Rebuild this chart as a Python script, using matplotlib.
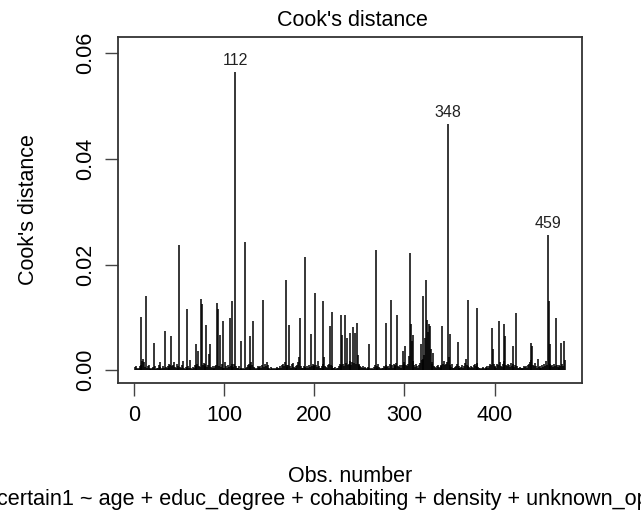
import numpy as np
import matplotlib
matplotlib.use('Agg')
import matplotlib.pyplot as plt

cooks = [
    0.0006, 0.0008, 0.0005, 0.0003, 0.0004, 0.0007, 0.0101, 0.0009, 0.0018, 0.0022,
    0.0015, 0.0006, 0.0140, 0.0004, 0.0008, 0.0010, 0.0003, 0.0005, 0.0002, 0.0004,
    0.0006, 0.0052, 0.0007, 0.0003, 0.0005, 0.0004, 0.0009, 0.0015, 0.0006, 0.0003,
    0.0004, 0.0008, 0.0005, 0.0074, 0.0006, 0.0004, 0.0007, 0.0012, 0.0005, 0.0010,
    0.0064, 0.0007, 0.0009, 0.0015, 0.0006, 0.0004, 0.0011, 0.0005, 0.0008, 0.0236,
    0.0006, 0.0004, 0.0009, 0.0018, 0.0005, 0.0003, 0.0006, 0.0004, 0.0115, 0.0007,
    0.0005, 0.0020, 0.0004, 0.0003, 0.0006, 0.0005, 0.0009, 0.0050, 0.0007, 0.0012,
    0.0036, 0.0008, 0.0006, 0.0135, 0.0125, 0.0009, 0.0014, 0.0007, 0.0011, 0.0086,
    0.0006, 0.0009, 0.0030, 0.0050, 0.0006, 0.0004, 0.0008, 0.0005, 0.0003, 0.0007,
    0.0010, 0.0128, 0.0115, 0.0008, 0.0066, 0.0006, 0.0012, 0.0094, 0.0005, 0.0004,
    0.0015, 0.0007, 0.0005, 0.0009, 0.0006, 0.0099, 0.0008, 0.0011, 0.0130, 0.0006,
    0.0012, 0.0564, 0.0008, 0.0005, 0.0004, 0.0007, 0.0003, 0.0055, 0.0004, 0.0002,
    0.0005, 0.0003, 0.0243, 0.0004, 0.0006, 0.0009, 0.0012, 0.0065, 0.0008, 0.0015,
    0.0010, 0.0094, 0.0006, 0.0004, 0.0003, 0.0005, 0.0007, 0.0004, 0.0006, 0.0008,
    0.0005, 0.0009, 0.0132, 0.0006, 0.0011, 0.0008, 0.0016, 0.0009, 0.0005, 0.0004,
    0.0003, 0.0006, 0.0004, 0.0002, 0.0005, 0.0003, 0.0004, 0.0006, 0.0003, 0.0005,
    0.0004, 0.0007, 0.0005, 0.0009, 0.0012, 0.0008, 0.0015, 0.0171, 0.0010, 0.0006,
    0.0009, 0.0086, 0.0007, 0.0005, 0.0011, 0.0013, 0.0006, 0.0004, 0.0008, 0.0005,
    0.0009, 0.0016, 0.0025, 0.0099, 0.0007, 0.0005, 0.0004, 0.0008, 0.0006, 0.0215,
    0.0005, 0.0007, 0.0004, 0.0009, 0.0006, 0.0069, 0.0008, 0.0012, 0.0010, 0.0007,
    0.0146, 0.0009, 0.0006, 0.0018, 0.0008, 0.0005, 0.0004, 0.0007, 0.0011, 0.0130,
    0.0025, 0.0008, 0.0006, 0.0005, 0.0009, 0.0012, 0.0084, 0.0010, 0.0110, 0.0007,
    0.0005, 0.0004, 0.0006, 0.0003, 0.0005, 0.0004, 0.0008, 0.0012, 0.0105, 0.0009,
    0.0066, 0.0011, 0.0008, 0.0105, 0.0014, 0.0061, 0.0009, 0.0012, 0.0018, 0.0071,
    0.0010, 0.0016, 0.0081, 0.0013, 0.0071, 0.0012, 0.0089, 0.0028, 0.0011, 0.0009,
    0.0008, 0.0006, 0.0005, 0.0007, 0.0004, 0.0006, 0.0005, 0.0003, 0.0006, 0.0004,
    0.0050, 0.0005, 0.0003, 0.0004, 0.0002, 0.0006, 0.0009, 0.0227, 0.0007, 0.0005,
    0.0012, 0.0006, 0.0004, 0.0003, 0.0005, 0.0004, 0.0007, 0.0006, 0.0010, 0.0089,
    0.0006, 0.0008, 0.0005, 0.0011, 0.0133, 0.0009, 0.0005, 0.0012, 0.0007, 0.0009,
    0.0014, 0.0105, 0.0008, 0.0006, 0.0010, 0.0005, 0.0009, 0.0037, 0.0011, 0.0016,
    0.0045, 0.0009, 0.0007, 0.0012, 0.0026, 0.0221, 0.0087, 0.0055, 0.0066, 0.0018,
    0.0009, 0.0006, 0.0011, 0.0008, 0.0005, 0.0010, 0.0014, 0.0050, 0.0020, 0.0141,
    0.0022, 0.0028, 0.0060, 0.0171, 0.0095, 0.0072, 0.0088, 0.0083, 0.0040, 0.0015,
    0.0012, 0.0033, 0.0008, 0.0006, 0.0004, 0.0007, 0.0009, 0.0006, 0.0005, 0.0010,
    0.0008, 0.0084, 0.0012, 0.0018, 0.0009, 0.0011, 0.0016, 0.0465, 0.0025, 0.0068,
    0.0009, 0.0006, 0.0011, 0.0005, 0.0004, 0.0006, 0.0008, 0.0012, 0.0054, 0.0007,
    0.0005, 0.0004, 0.0006, 0.0009, 0.0005, 0.0008, 0.0014, 0.0022, 0.0010, 0.0133,
    0.0007, 0.0006, 0.0005, 0.0008, 0.0006, 0.0005, 0.0009, 0.0012, 0.0007, 0.0118,
    0.0014, 0.0006, 0.0004, 0.0005, 0.0003, 0.0004, 0.0006, 0.0005, 0.0003, 0.0004,
    0.0006, 0.0008, 0.0005, 0.0007, 0.0012, 0.0009, 0.0079, 0.0040, 0.0011, 0.0006,
    0.0008, 0.0005, 0.0012, 0.0009, 0.0093, 0.0015, 0.0008, 0.0006, 0.0011, 0.0018,
    0.0087, 0.0064, 0.0010, 0.0007, 0.0012, 0.0009, 0.0006, 0.0014, 0.0008, 0.0046,
    0.0011, 0.0006, 0.0009, 0.0109, 0.0008, 0.0005, 0.0004, 0.0006, 0.0005, 0.0003,
    0.0004, 0.0005, 0.0007, 0.0006, 0.0008, 0.0005, 0.0009, 0.0012, 0.0016, 0.0020,
    0.0052, 0.0046, 0.0010, 0.0008, 0.0013, 0.0007, 0.0005, 0.0022, 0.0006, 0.0004,
    0.0007, 0.0005, 0.0009, 0.0006, 0.0012, 0.0008, 0.0018, 0.0010, 0.0256, 0.0130,
    0.0050, 0.0012, 0.0007, 0.0009, 0.0006, 0.0011, 0.0008, 0.0098, 0.0009, 0.0006,
    0.0005, 0.0010, 0.0007, 0.0052, 0.0012, 0.0008, 0.0055, 0.0020,
]
x_ticks = [0, 100, 200, 300, 400]
y_ticks = [0.00, 0.02, 0.04, 0.06]
y_tick_labels = ['0.00', '0.02', '0.04', '0.06']
caption = 'certain1 ~ age + educ_degree + cohabiting + density + unknown_op'

plt.rcParams['font.family'] = ['Liberation Sans', 'DejaVu Sans']

cooks = np.array(cooks)
n = len(cooks)
obs = np.arange(1, n + 1)

fig = plt.figure(figsize=(6.41, 5.19), dpi=100)
ax = fig.add_axes([118 / 641, 1 - 383 / 519, 464 / 641, 346 / 519])

ax.vlines(obs, 0, cooks, color='black', lw=1.1)

# three largest get labelled
top = np.argsort(cooks)[-3:]
for i in top:
    ax.annotate(str(obs[i]), (obs[i], cooks[i]), xytext=(0, 3), textcoords='offset points',
                ha='center', va='bottom', fontsize=11.5, color='#222222')

# R style axis limits (plot.lm uses ylim = max * 1.075, then 4% padding)
rng = cooks.max() * 1.075
ax.set_ylim(-0.04 * rng, 1.04 * rng)
ax.set_xlim(1 - 0.04 * (n - 1), n + 0.04 * (n - 1))

ax.set_xticks(x_ticks)
ax.set_yticks(y_ticks)
ax.set_yticklabels(y_tick_labels, rotation=90, va='center')
ax.tick_params(axis='both', direction='out', length=9.5, width=1.0, color='#444444',
               labelsize=15.5, pad=6)
for s in ax.spines.values():
    s.set_linewidth(1.3)
    s.set_color('#333333')

ax.set_ylabel("Cook's distance", fontsize=15.5, labelpad=26)
fig.text(352 / 641, 1 - 20 / 519, "Cook's distance", ha='center', va='center', fontsize=15.5)
fig.text(350 / 641, 1 - 476 / 519, 'Obs. number', ha='center', va='center', fontsize=15.5)
fig.text(-3 / 641, 1 - 500 / 519, caption, ha='left', va='center', fontsize=15.6)

plt.savefig('out.png', dpi=100)
plt.close()
